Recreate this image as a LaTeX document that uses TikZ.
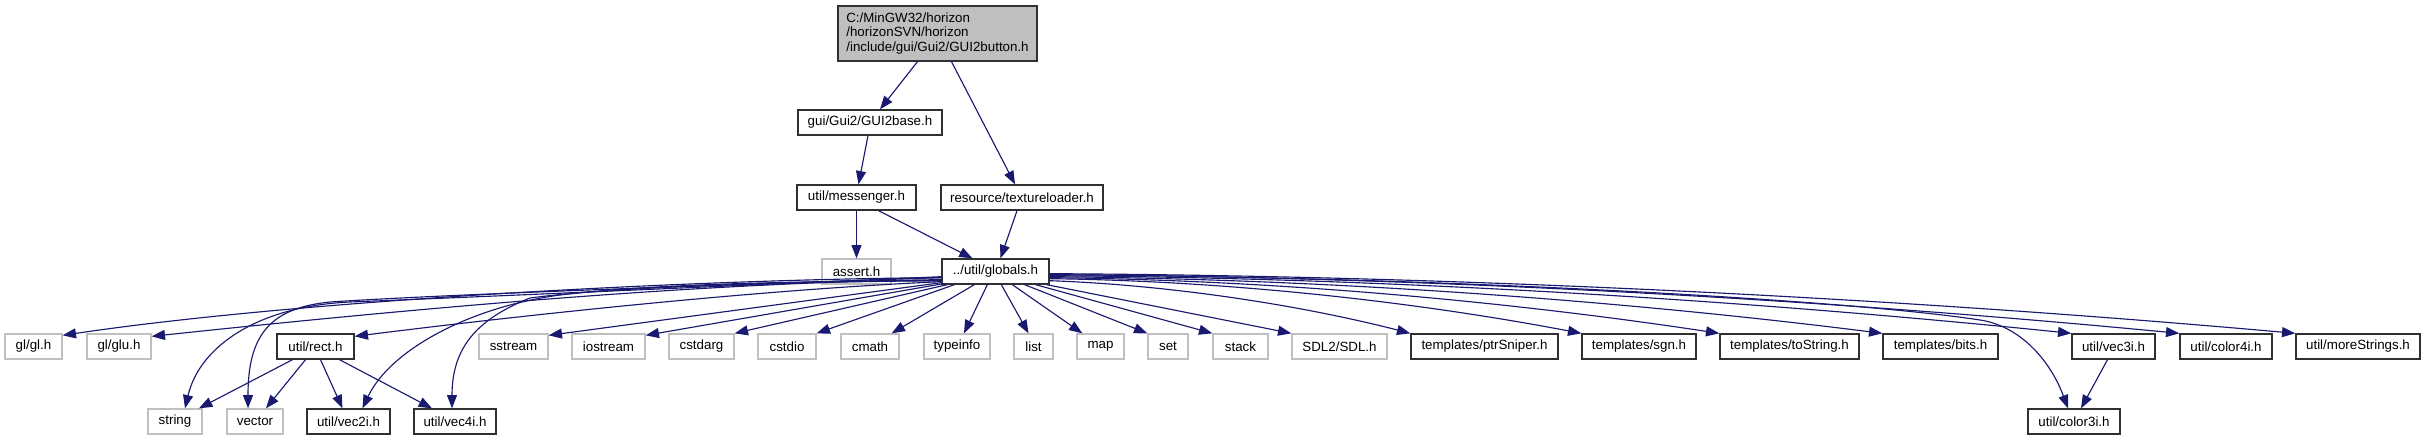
\documentclass[tikz,border=0pt]{standalone}
\usepackage{fontspec}
\setmainfont{Liberation Sans}
\usetikzlibrary{arrows.meta,calc}
\definecolor{edgeblue}{HTML}{191970}
\definecolor{sysgray}{HTML}{BFBFBF}
\definecolor{projborder}{HTML}{303030}
\newcommand{\DepBox}[7]{\node[#1, minimum width={(#5-#3)*0.75pt}, minimum height={(#6-#4)*0.75pt}] (#2) at ({(#3+#5)/2},{(#4+#6)/2}) {#7};}
\begin{document}
\begin{tikzpicture}[x=0.75pt,y=-0.75pt,
  font=\fontsize{10}{11}\selectfont, inner sep=0pt,
  proj/.style={draw=projborder, line width=1pt, fill=white},
  sys/.style={draw=sysgray, line width=1pt, fill=white},
  rootbox/.style={draw=projborder, fill=sysgray, align=left, line width=1pt},
  dep/.style={draw=edgeblue, line width=0.85pt, -{Triangle[length=10pt,width=7.5pt]}}]
\useasboundingbox[fill=white] (0,0) rectangle (2425,440);
% nodes
\DepBox{rootbox}{root}{838}{6}{1037}{61}{C:/MinGW32/horizon\\/horizonSVN/horizon\\/include/gui/Gui2/GUI2button.h}
\DepBox{proj}{base}{798}{110}{942}{135}{gui/Gui2/GUI2base.h}
\DepBox{proj}{messenger}{797}{185}{916}{210}{util/messenger.h}
\DepBox{proj}{texload}{941}{185}{1103}{210}{resource/textureloader.h}
\DepBox{sys}{assert}{822}{259}{891}{284}{assert.h}
\DepBox{proj}{globals}{942}{259}{1049}{284}{../util/globals.h}
\DepBox{sys}{gl}{5}{334}{62}{359}{gl/gl.h}
\DepBox{sys}{glu}{87}{334}{151}{359}{gl/glu.h}
\DepBox{proj}{rect}{277}{334}{354}{359}{util/rect.h}
\DepBox{sys}{sstream}{479}{334}{548}{359}{sstream}
\DepBox{sys}{iostream}{572}{334}{645}{359}{iostream}
\DepBox{sys}{cstdarg}{669}{334}{734}{359}{cstdarg}
\DepBox{sys}{cstdio}{758}{334}{816}{359}{cstdio}
\DepBox{sys}{cmath}{841}{334}{899}{359}{cmath}
\DepBox{sys}{typeinfo}{924}{334}{990}{359}{typeinfo}
\DepBox{sys}{list}{1014}{334}{1053}{359}{list}
\DepBox{sys}{map}{1077}{334}{1124}{359}{map}
\DepBox{sys}{set}{1148}{334}{1188}{359}{set}
\DepBox{sys}{stack}{1213}{334}{1268}{359}{stack}
\DepBox{sys}{sdl}{1292}{334}{1387}{359}{SDL2/SDL.h}
\DepBox{proj}{ptr}{1411}{334}{1558}{359}{templates/ptrSniper.h}
\DepBox{proj}{sgn}{1582}{334}{1696}{359}{templates/sgn.h}
\DepBox{proj}{tostr}{1720}{334}{1859}{359}{templates/toString.h}
\DepBox{proj}{bits}{1883}{334}{1998}{359}{templates/bits.h}
\DepBox{proj}{vec3i}{2072}{334}{2155}{359}{util/vec3i.h}
\DepBox{proj}{color4i}{2180}{334}{2272}{359}{util/color4i.h}
\DepBox{proj}{morestr}{2296}{334}{2420}{359}{util/moreStrings.h}
\DepBox{sys}{string}{148}{409}{202}{434}{string}
\DepBox{sys}{vector}{227}{409}{283}{434}{vector}
\DepBox{proj}{vec2i}{307}{409}{390}{434}{util/vec2i.h}
\DepBox{proj}{vec4i}{414}{409}{496}{434}{util/vec4i.h}
\DepBox{proj}{color3i}{2028}{409}{2120}{434}{util/color3i.h}
% upper edges
\draw[dep] ($(root.south)+(-20,0)$) -- ($(base.north)+(10,0)$);
\draw[dep] ($(root.south)+(14,0)$) -- ($(texload.north)+(-7,0)$);
\draw[dep] ($(base.south)+(-2,0)$) -- ($(messenger.north)+(2,0)$);
\draw[dep] (messenger.south) -- (assert.north);
\draw[dep] ($(messenger.south)+(22,0)$) -- ($(globals.north)+(-23,0)$);
\draw[dep] ($(texload.south)+(-5,0)$) -- ($(globals.north)+(5,0)$);
% globals -> left
\draw[dep] ($(globals.south west)+(0,-7)$) .. controls (700,279) and (300,300) .. ($(gl.north east)+(0,2)$);
\draw[dep] ($(globals.south west)+(0,-5)$) .. controls (700,282) and (400,310) .. ($(glu.north east)+(0,3)$);
\draw[dep] ($(globals.south west)+(0,-3)$) .. controls (750,290) and (500,318) .. ($(rect.north east)+(0,3)$);
\draw[dep] ($(globals.south west)+(0,-2)$) -- ($(sstream.north east)+(0,2)$);
\draw[dep] ($(globals.south west)+(2,-1)$) -- ($(iostream.north east)+(0,2)$);
\draw[dep] ($(globals.south west)+(6,0)$) -- (cstdarg.north east);
\draw[dep] ($(globals.south west)+(13,0)$) -- (cstdio.north east);
\draw[dep] ($(globals.south west)+(33,0)$) -- ($(cmath.north east)+(-8,0)$);
\draw[dep] ($(globals.south west)+(46,0)$) -- ($(typeinfo.north)+(7,0)$);
\draw[dep] ($(globals.south west)+(60,0)$) -- ($(list.north)+(-5,0)$);
\draw[dep] ($(globals.south west)+(71,0)$) -- ($(map.north west)+(6,0)$);
% globals -> right
\draw[dep] ($(globals.south east)+(-25,0)$) -- (set.north west);
\draw[dep] ($(globals.south east)+(-14,0)$) -- (stack.north west);
\draw[dep] ($(globals.south east)+(-3,0)$) -- (sdl.north west);
\draw[dep] ($(globals.south east)+(0,-4)$) .. controls (1170,285) and (1300,305) .. (ptr.north west);
\draw[dep] ($(globals.south east)+(0,-6)$) .. controls (1236,281) and (1422,303) .. (sgn.north west);
\draw[dep] ($(globals.south east)+(0,-7)$) .. controls (1284,280) and (1519,303) .. (tostr.north west);
\draw[dep] ($(globals.south east)+(0,-8)$) .. controls (1341,279) and (1633,302) .. (bits.north west);
\draw[dep] ($(globals.south east)+(0,-9)$) .. controls (1407,278) and (1765,302) .. (vec3i.north west);
\draw[dep] ($(globals.south east)+(0,-10)$) .. controls (1445,277) and (1841,301) .. (color4i.north west);
\draw[dep] ($(globals.south east)+(0,-11)$) .. controls (1485,276) and (1922,300) .. (morestr.north west);
\draw[dep] ($(globals.south east)+(0,-10)$) .. controls (1450,277) and (1850,300) .. (1980,320)
  .. controls (2020,326) and (2050,360) .. ($(color3i.north)+(-6,0)$);
% globals -> bottom left
\draw[dep] ($(globals.south west)+(0,-8)$) .. controls (750,285) and (500,296) .. (350,302)
  .. controls (260,306) and (200,345) .. ($(string.north)+(10,0)$);
\draw[dep] ($(globals.south west)+(0,-7)$) .. controls (750,284) and (450,294) .. (330,302)
  .. controls (270,308) and (248,335) .. ($(vector.north)+(-7,0)$);
\draw[dep] ($(globals.south west)+(0,-4)$) .. controls (800,281) and (650,284) .. (560,295)
  .. controls (470,307) and (390,350) .. ($(vec2i.north)+(14,0)$);
\draw[dep] ($(globals.south west)+(0,-4)$) .. controls (800,282) and (620,286) .. (530,298)
  .. controls (480,318) and (452,345) .. ($(vec4i.north)+(-3,0)$);
% rect -> ...
\draw[dep] ($(rect.south)+(-23,0)$) -- ($(string.north)+(24,0)$);
\draw[dep] ($(rect.south)+(-10,0)$) -- ($(vector.north)+(11,0)$);
\draw[dep] ($(rect.south)+(5,0)$) -- ($(vec2i.north)+(-6,0)$);
\draw[dep] ($(rect.south)+(24,0)$) -- ($(vec4i.north)+(-23,0)$);
% vec3i -> color3i
\draw[dep] ($(vec3i.south)+(-6,0)$) -- ($(color3i.north)+(7,0)$);
\end{tikzpicture}
\end{document}
